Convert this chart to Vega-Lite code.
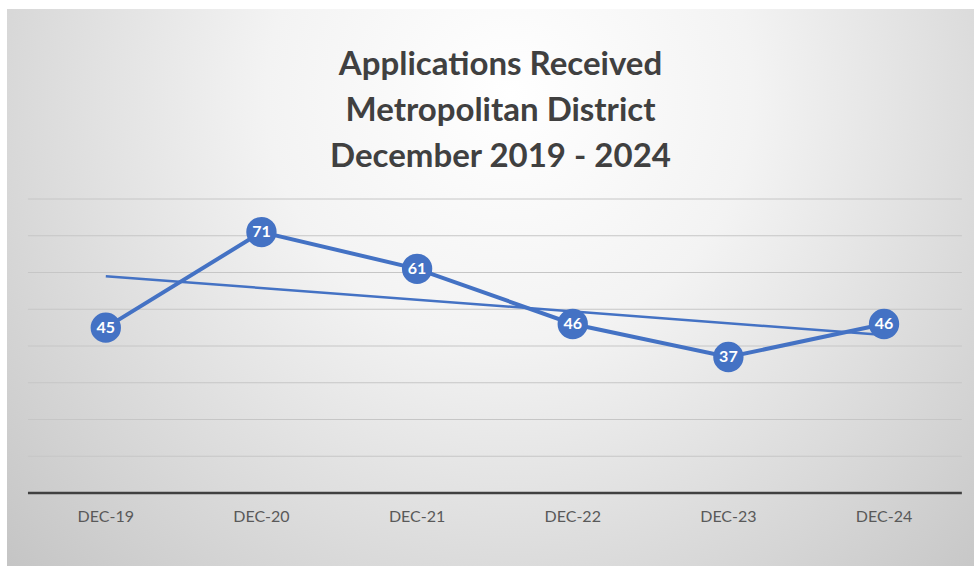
{
  "$schema": "https://vega.github.io/schema/vega-lite/v6.json",
  "width": 967,
  "height": 557,
  "autosize": {"type": "none"},
  "padding": {"left": 7, "top": 9, "right": 0, "bottom": 0},
  "background": "white",
  "config": {"view": {"stroke": null}},
  "title": {
    "text": ["Applications Received", "Metropolitan District", "December 2019 - 2024"],
    "font": "Lato",
    "fontSize": 33,
    "fontWeight": "bold",
    "color": "#404040",
    "lineHeight": 46,
    "anchor": "middle",
    "baseline": "top",
    "offset": -165,
    "dx": 10
  },
  "data": {
    "values": [
      {"month": "DEC-19", "year": 2019, "value": 45},
      {"month": "DEC-20", "year": 2020, "value": 71},
      {"month": "DEC-21", "year": 2021, "value": 61},
      {"month": "DEC-22", "year": 2022, "value": 46},
      {"month": "DEC-23", "year": 2023, "value": 37},
      {"month": "DEC-24", "year": 2024, "value": 46}
    ]
  },
  "layer": [
    {
      "data": {"values": [{"panel": "background"}]},
      "mark": {
        "type": "rect",
        "fill": {
          "gradient": "radial",
          "x1": 0.52, "y1": 0.3, "x2": 0.52, "y2": 0.3,
          "r1": 0, "r2": 0.72,
          "stops": [
            {"offset": 0, "color": "#ffffff"},
            {"offset": 0.35, "color": "#f3f3f3"},
            {"offset": 1, "color": "#c4c4c4"}
          ]
        }
      },
      "encoding": {}
    },
    {
      "data": {"values": [{"grid": 10}, {"grid": 20}, {"grid": 30}, {"grid": 40}, {"grid": 50}, {"grid": 60}, {"grid": 70}, {"grid": 80}]},
      "mark": {"type": "rule", "stroke": "#c6c6c6", "strokeWidth": 1},
      "encoding": {
        "y": {"field": "grid", "type": "quantitative", "scale": {"domain": [-19.86, 131.7], "nice": false, "zero": false}, "axis": null},
        "x": {"datum": 2018.5, "type": "quantitative", "scale": {"domain": [2018.3653, 2024.578], "nice": false, "zero": false}, "axis": null},
        "x2": {"datum": 2024.5}
      }
    },
    {
      "data": {"values": [{"grid": 0}]},
      "mark": {"type": "rule", "stroke": "#404040", "strokeWidth": 2.5},
      "encoding": {
        "y": {"field": "grid", "type": "quantitative", "scale": {"domain": [-19.86, 131.7], "nice": false, "zero": false}, "axis": null},
        "x": {"datum": 2018.5, "type": "quantitative", "scale": {"domain": [2018.3653, 2024.578], "nice": false, "zero": false}, "axis": null},
        "x2": {"datum": 2024.5}
      }
    },
    {
      "transform": [{"regression": "value", "on": "year"}],
      "mark": {"type": "line", "stroke": "#4472C4", "strokeWidth": 2.5},
      "encoding": {
        "x": {"field": "year", "type": "quantitative", "scale": {"domain": [2018.3653, 2024.578], "nice": false, "zero": false}, "axis": null},
        "y": {"field": "value", "type": "quantitative", "scale": {"domain": [-19.86, 131.7], "nice": false, "zero": false}, "axis": null}
      }
    },
    {
      "mark": {"type": "line", "stroke": "#4472C4", "strokeWidth": 4},
      "encoding": {
        "x": {"field": "year", "type": "quantitative", "scale": {"domain": [2018.3653, 2024.578], "nice": false, "zero": false}, "axis": null},
        "y": {"field": "value", "type": "quantitative", "scale": {"domain": [-19.86, 131.7], "nice": false, "zero": false}, "axis": null}
      }
    },
    {
      "mark": {"type": "circle", "size": 920, "opacity": 1, "fill": "#4472C4"},
      "encoding": {
        "x": {"field": "year", "type": "quantitative", "scale": {"domain": [2018.3653, 2024.578], "nice": false, "zero": false}, "axis": null},
        "y": {"field": "value", "type": "quantitative", "scale": {"domain": [-19.86, 131.7], "nice": false, "zero": false}, "axis": null}
      }
    },
    {
      "mark": {"type": "text", "color": "white", "font": "Lato", "fontSize": 16, "fontWeight": "bold", "align": "center", "baseline": "middle"},
      "encoding": {
        "x": {"field": "year", "type": "quantitative", "scale": {"domain": [2018.3653, 2024.578], "nice": false, "zero": false}, "axis": null},
        "y": {"field": "value", "type": "quantitative", "scale": {"domain": [-19.86, 131.7], "nice": false, "zero": false}, "axis": null},
        "text": {"field": "value", "type": "quantitative"}
      }
    },
    {
      "mark": {"type": "text", "color": "#595959", "font": "Lato", "fontSize": 16, "align": "center", "baseline": "top", "yOffset": 16},
      "encoding": {
        "x": {"field": "year", "type": "quantitative", "scale": {"domain": [2018.3653, 2024.578], "nice": false, "zero": false}, "axis": null},
        "y": {"datum": 0, "type": "quantitative", "scale": {"domain": [-19.86, 131.7], "nice": false, "zero": false}, "axis": null},
        "text": {"field": "month", "type": "nominal"}
      }
    }
  ]
}
